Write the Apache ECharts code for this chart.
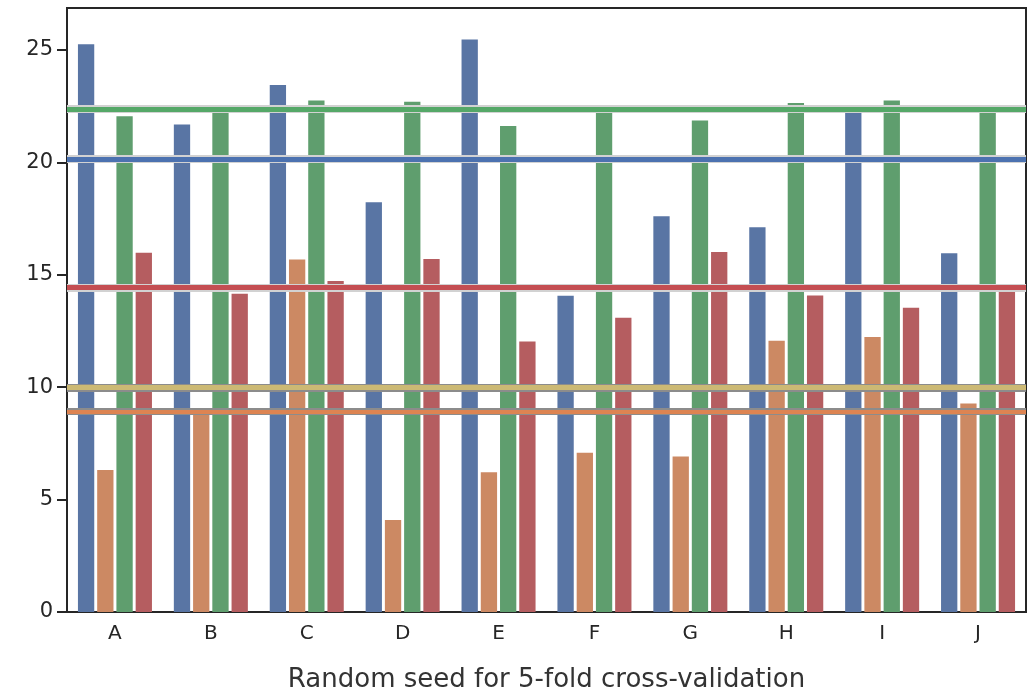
<!DOCTYPE html>
<html>
<head>
<meta charset="utf-8">
<script src="https://cdn.jsdelivr.net/npm/echarts@6/dist/echarts.min.js"></script>
<style>
  html, body { margin: 0; padding: 0; background: #fff; }
  #chart { width: 1032px; height: 693px; }
</style>
</head>
<body>
<div id="chart"></div>
<script>
// categories (random seeds)
const seeds = ['A', 'B', 'C', 'D', 'E', 'F', 'G', 'H', 'I', 'J'];
const yTicks = [0, 5, 10, 15, 20, 25];

// bar values per series
const blueVals   = [25.26, 21.69, 23.44, 18.23, 25.47, 14.07, 17.61, 17.12, 22.2, 15.96];
const orangeVals = [6.32, 9.0, 15.68, 4.09, 6.22, 7.08, 6.92, 12.07, 12.23, 9.27];
const greenVals  = [22.05, 22.3, 22.76, 22.70, 21.62, 22.2, 21.86, 22.64, 22.76, 22.2];
const redVals    = [15.98, 14.16, 14.72, 15.70, 12.03, 13.09, 16.01, 14.08, 13.54, 14.35];

// horizontal reference lines (green, blue, red, yellow, orange)
const refLines = [22.37, 20.16, 14.44, 9.98, 8.91];

const barColors = ['#5975a4', '#cc8963', '#5f9e6e', '#b55d60'];
const lineColors = ['#55a868', '#4c72b0', '#c44e52', '#ccb974', '#dd8452'];
const lineEdges = ['#d2d2d2', '#d2d2d2', '#d2d2d2', '#8c8c8c', '#8c8c8c'];
const lineCore = [5, 5, 5, 5, 4];

const ink = '#262626';
const font = 'DejaVu Sans';

const chart = echarts.init(document.getElementById('chart'));

const markData = [];
refLines.forEach((v, i) => {
  markData.push({ yAxis: v, lineStyle: { color: lineEdges[i], width: lineCore[i] + 3, type: 'solid' } });
  markData.push({ yAxis: v, lineStyle: { color: lineColors[i], width: lineCore[i], type: 'solid' } });
});

const seriesVals = [blueVals, orangeVals, greenVals, redVals];
const series = seriesVals.map((vals, i) => ({
  type: 'bar',
  data: vals,
  barWidth: '17%',
  barGap: '18%',
  itemStyle: { color: barColors[i] },
  animation: false
}));
series[3].markLine = {
  silent: true,
  symbol: 'none',
  label: { show: false },
  animation: false,
  data: markData
};

chart.setOption({
  animation: false,
  grid: {
    left: 67, right: 6, top: 8, bottom: 81,
    outerBoundsMode: 'none',
    containLabel: false,
    show: true, borderColor: ink, borderWidth: 2
  },
  xAxis: {
    type: 'category',
    data: seeds,
    axisLine: { lineStyle: { color: ink, width: 2 } },
    axisTick: { alignWithLabel: true, length: 10, lineStyle: { color: ink, width: 2 } },
    axisLabel: { color: ink, fontSize: 20, fontFamily: font, margin: 12 },
    name: 'Random seed for 5-fold cross-validation',
    nameLocation: 'middle',
    nameGap: 55,
    nameTextStyle: { color: '#333', fontSize: 26, fontFamily: font }
  },
  yAxis: {
    type: 'value',
    min: 0,
    max: 26.87,
    splitLine: { show: false },
    axisLine: { show: true, lineStyle: { color: ink, width: 2 } },
    axisTick: { show: true, length: 10, lineStyle: { color: ink, width: 2 }, customValues: yTicks },
    axisLabel: { color: ink, fontSize: 21, fontFamily: font, margin: 14, customValues: yTicks }
  },
  series: series
});
</script>
</body>
</html>
